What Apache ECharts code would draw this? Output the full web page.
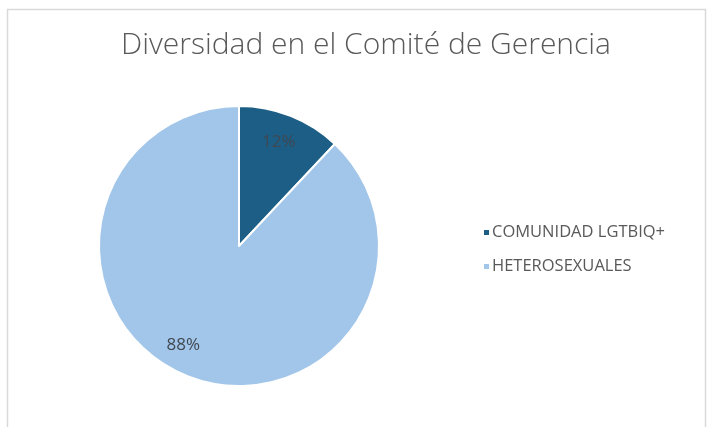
<!DOCTYPE html>
<html><head><meta charset="utf-8">
<script src="https://cdn.jsdelivr.net/npm/echarts@6/dist/echarts.min.js"></script>
<style>html,body{margin:0;padding:0;background:#fff}#c{width:708px;height:427px}</style>
</head><body><div id="c"></div>
<script>
const title = 'Diversidad en el Comité de Gerencia';
const categories = ['COMUNIDAD LGTBIQ+', 'HETEROSEXUALES'];
const values = [12, 88];
const colors = ['#1c5e85', '#a2c6e9'];

const data = categories.map((n, i) => ({ name: n, value: values[i], itemStyle: { color: colors[i] } }));
const chart = echarts.init(document.getElementById('c'));
chart.setOption({
  animation: false,
  backgroundColor: '#fff',
  graphic: [{ type: 'rect', shape: { x: 7.5, y: 9.5, width: 698, height: 440 }, style: { fill: 'none', stroke: '#d9d9d9', lineWidth: 1.5 }, silent: true }],
  title: { text: title, left: 361, top: 25, textAlign: 'center',
    textStyle: { fontFamily: 'Open Sans', fontWeight: 300, fontSize: 30, color: '#595959' } },
  legend: { orient: 'vertical', left: 477, top: 219, itemWidth: 7, itemHeight: 7, itemGap: 17, icon: 'rect',
    data: categories,
    textStyle: { fontFamily: 'Open Sans', fontSize: 16.5, color: '#595959', padding: [0, 0, 0, -3] } },
  series: [
    { type: 'pie', center: [239, 246], radius: [0, 140], startAngle: 90, clockwise: true, data: data,
      label: { show: false }, labelLine: { show: false },
      itemStyle: { borderColor: '#fff', borderWidth: 2 }, emphasis: { disabled: true } },
    { type: 'pie', center: [239, 246], radius: [86, 140], startAngle: 90, clockwise: true, silent: true,
      data: categories.map((n, i) => ({ name: n + ' ', value: values[i], itemStyle: { color: 'rgba(0,0,0,0)' } })),
      label: { show: true, position: 'inside', formatter: '{d}%', fontFamily: 'Open Sans', fontSize: 17, color: '#404852' },
      labelLayout: function (p) { return p.dataIndex === 1 ? { dx: -13, dy: -9 } : { dx: -3, dy: 4 }; },
      labelLine: { show: false }, emphasis: { disabled: true } }
  ]
});
</script></body></html>
